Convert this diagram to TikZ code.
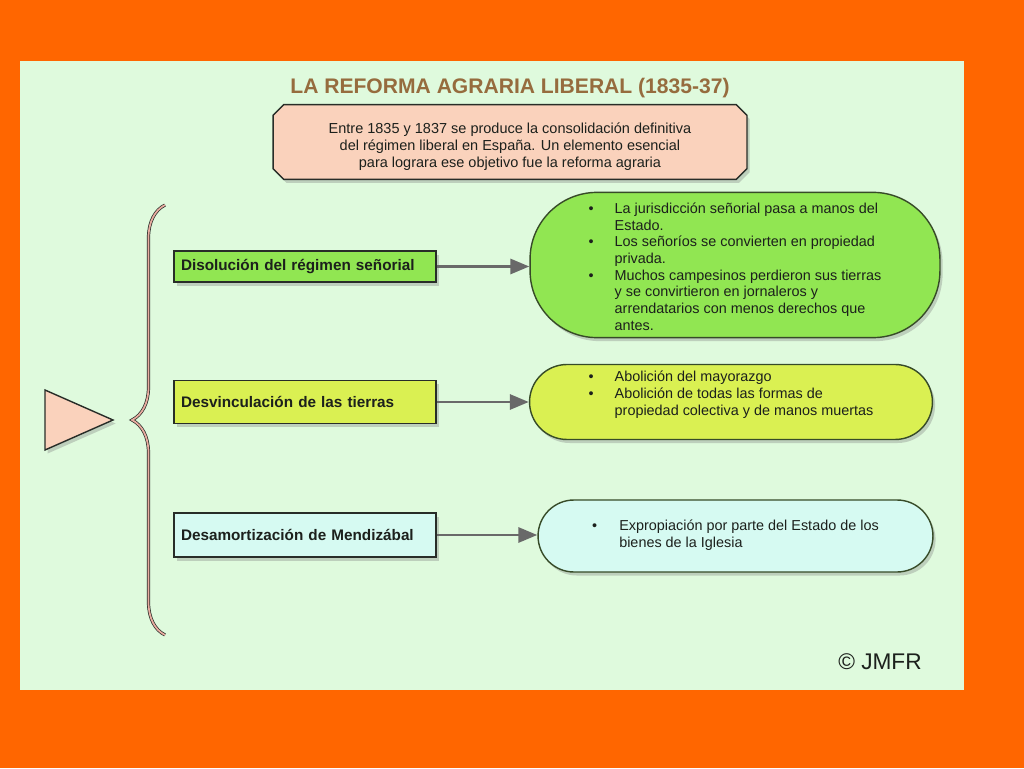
\documentclass[tikz,border=0pt]{standalone}
\usepackage{fontspec}
\setmainfont{Liberation Sans}
\usetikzlibrary{arrows.meta,positioning,shapes.misc,shadows,decorations.pathreplacing}
\definecolor{rfOrange}{RGB}{255,102,  0}
\definecolor{rfPanel} {RGB}{223,250,221}
\definecolor{rfTitle} {RGB}{150,108, 62}
\definecolor{rfPeach} {RGB}{250,210,188}
\definecolor{rfGreen} {RGB}{145,230, 82}
\definecolor{rfLime}  {RGB}{218,240, 82}
\definecolor{rfCyan}  {RGB}{214,250,242}
\definecolor{rfEdge}  {RGB}{ 40, 45, 40}
\definecolor{rfOlive} {RGB}{ 55, 75, 40}
\definecolor{rfArrow} {RGB}{105,105,105}
\definecolor{rfBrace} {RGB}{232,172,160}
\definecolor{rfText}  {RGB}{ 28, 32, 28}

\begin{document}
\begin{tikzpicture}[x=0.02cm,y=0.02cm,
  every node/.style={font=\fontsize{8.2}{9.5}\selectfont,text=rfText},
  intro/.style={chamfered rectangle,chamfered rectangle xsep=0.09cm,
                draw=rfEdge,fill=rfPeach,line width=0.8pt,align=center,
                minimum width=9.48cm,minimum height=1.48cm,
                drop shadow={shadow xshift=1.5pt,shadow yshift=-2pt,opacity=0.35}},
  topic/.style={draw=rfEdge,line width=0.8pt,text width=4.96cm,inner xsep=0.14cm,
                align=left,font=\fontsize{8.7}{10}\selectfont\bfseries,
                drop shadow={shadow xshift=1.5pt,shadow yshift=-2pt,opacity=0.35}},
  idea/.style={draw=rfOlive,line width=0.8pt,
               drop shadow={shadow xshift=1.5pt,shadow yshift=-2pt,opacity=0.35}},
  linkarrow/.style={-{Triangle[length=0.38cm,width=0.3cm]},line width=1.7pt,rfArrow}
]
% frame and panel
\fill[rfOrange] (0,0) rectangle (1024,768);
\fill[rfPanel] (20,78) rectangle (964,707);

\node[font=\fontsize{12}{14}\selectfont\bfseries,text=rfTitle] (T) at (510,680)
  {LA REFORMA AGRARIA LIBERAL (1835-37)};
\node[intro,font=\fontsize{8.25}{9.6}\selectfont] (I) at (510,626)
  {\raisebox{-3pt}[\height][\depth]{\begin{tabular}{@{}c@{}}
   Entre 1835 y 1837 se produce la consolidación definitiva\\
   del régimen liberal en España. Un elemento esencial\\
   para lograra ese objetivo fue la reforma agraria
   \end{tabular}}};

% triangle and brace
\filldraw[fill=rfPeach,draw=rfEdge,line width=0.8pt,
  drop shadow={shadow xshift=1.5pt,shadow yshift=-2pt,opacity=0.35}]
  (45,378) -- (113,348) -- (45,318) -- cycle;
\draw[decorate,decoration={brace,amplitude=0.66cm},
  draw=rfEdge,double=rfBrace,double distance=1pt,line width=0.4pt]
  (165,133) -- (165,563);

% left boxes
\node[topic,fill=rfGreen,minimum height=0.62cm] (L1) at (305,501.5) {Disolución del régimen señorial};
\node[topic,fill=rfLime, minimum height=0.86cm] (L2) at (305,366)   {Desvinculación de las tierras};
\node[topic,fill=rfCyan, minimum height=0.88cm] (L3) at (305,233)   {Desamortización de Mendizábal};

% right shapes
\node[idea,fill=rfGreen,minimum width=8.2cm,minimum height=2.68cm,rounded corners=1.34cm] (R1) at (735,503)
  {\raisebox{-2pt}[\height][\depth]{\begin{tabular}{@{}l@{\hspace{0.42cm}}l@{}}
   \textbullet & La jurisdicción señorial pasa a manos del\\
               & Estado.\\
   \textbullet & Los señoríos se convierten en propiedad\\
               & privada.\\
   \textbullet & Muchos campesinos perdieron sus tierras\\
               & y se convirtieron en jornaleros y\\
               & arrendatarios con menos derechos que\\
               & antes.
   \end{tabular}}};
\node[idea,fill=rfLime,minimum width=8.06cm,minimum height=1.5cm,rounded corners=0.75cm] (R2) at (731,366)
  {\raisebox{4pt}[\height][\depth]{\begin{tabular}{@{}l@{\hspace{0.42cm}}l@{}}
   \textbullet & Abolición del mayorazgo\\
   \textbullet & Abolición de todas las formas de\\
               & propiedad colectiva y de manos muertas
   \end{tabular}}};
\node[idea,fill=rfCyan,minimum width=7.9cm,minimum height=1.44cm,rounded corners=0.72cm] (R3) at (735.5,232)
  {\begin{tabular}{@{}l@{\hspace{0.44cm}}l@{}}
   \textbullet & Expropiación por parte del Estado de los\\
               & bienes de la Iglesia
   \end{tabular}};

\foreach \a/\b in {L1/R1,L2/R2,L3/R3}
  \draw[linkarrow] (\a.east) -- (\b.west |- \a.east);

\node[font=\fontsize{12.9}{14}\selectfont] (C) at (880,106) {© JMFR};
\end{tikzpicture}
\end{document}
